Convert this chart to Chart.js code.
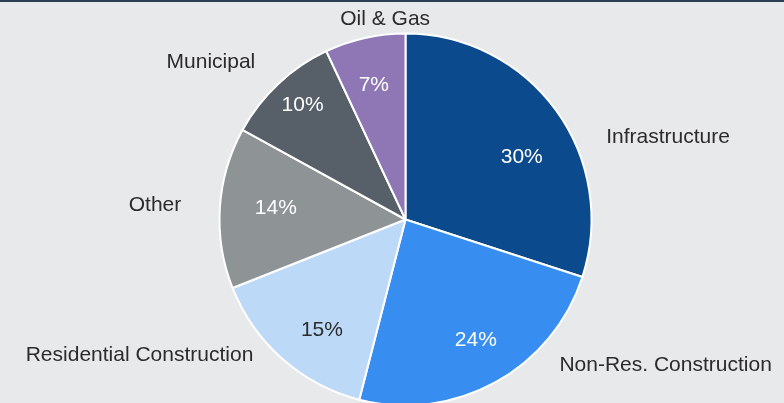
<!DOCTYPE html>
<html>
<head>
<meta charset="utf-8">
<script src="https://cdn.jsdelivr.net/npm/chart.js@4/dist/chart.umd.min.js"></script>
<style>
  html, body { margin: 0; padding: 0; background: #e8e9eb; }
  #wrap { width: 784px; height: 403px; position: relative; }
</style>
</head>
<body>
<div id="wrap"><canvas id="pie"></canvas></div>
<script>
// chart values
const categories = ['Infrastructure', 'Non-Res. Construction', 'Residential Construction', 'Other', 'Municipal', 'Oil & Gas'];
const shares = [30, 24, 15, 14, 10, 7];

const sliceColors = ['#0b4a8c', '#378ef0', '#bdd9f8', '#8e9396', '#575f68', '#8e77b4'];
const pctColors = ['#ffffff', '#ffffff', '#2b2b2b', '#ffffff', '#ffffff', '#ffffff'];

// label placement, relative to each slice: [angle shift in deg, radius factor]
const pctPlace = [[8, 0.708], [-1.5, 0.75], [-4.3, 0.745], [1.5, 0.70], [1.1, 0.825], [-0.7, 0.74]];
const namePlace = [[18.6, 1.479], [-32, 1.602], [21.6, 1.605], [-0.3, 1.349], [-7.8, 1.346], [6.8, 1.083]];

const FONT = '21px "Liberation Sans", Arial, sans-serif';

const backdrop = {
  id: 'backdrop',
  beforeDraw(chart) {
    const ctx = chart.ctx;
    ctx.save();
    ctx.fillStyle = '#e8e9eb';
    ctx.fillRect(0, 0, chart.width, chart.height);
    ctx.fillStyle = '#2c3d54';
    ctx.fillRect(0, 0, chart.width, 2);
    ctx.restore();
  }
};

const sliceLabels = {
  id: 'sliceLabels',
  afterDatasetsDraw(chart) {
    const ctx = chart.ctx;
    const meta = chart.getDatasetMeta(0);
    ctx.save();
    ctx.font = FONT;
    ctx.textAlign = 'center';
    ctx.textBaseline = 'middle';
    meta.data.forEach((arc, i) => {
      const p = arc.getProps(['x', 'y', 'startAngle', 'endAngle', 'outerRadius'], true);
      const mid = (p.startAngle + p.endAngle) / 2;
      const R = p.outerRadius;

      let a = mid + pctPlace[i][0] * Math.PI / 180;
      let r = R * pctPlace[i][1];
      ctx.fillStyle = pctColors[i];
      ctx.fillText(shares[i] + '%', p.x + Math.cos(a) * r, p.y + Math.sin(a) * r);

      a = mid + namePlace[i][0] * Math.PI / 180;
      r = R * namePlace[i][1];
      ctx.fillStyle = '#2b2b2b';
      ctx.fillText(categories[i], p.x + Math.cos(a) * r, p.y + Math.sin(a) * r);
    });
    ctx.restore();
  }
};

new Chart(document.getElementById('pie'), {
  type: 'pie',
  data: {
    labels: categories,
    datasets: [{
      data: shares,
      backgroundColor: sliceColors,
      borderColor: '#ffffff',
      borderWidth: 2,
      radius: 186
    }]
  },
  options: {
    responsive: true,
    maintainAspectRatio: false,
    animation: false,
    layout: { padding: { left: 27, right: 0, top: 36, bottom: 0 } },
    plugins: {
      legend: { display: false },
      tooltip: { enabled: false }
    }
  },
  plugins: [backdrop, sliceLabels]
});
</script>
</body>
</html>
